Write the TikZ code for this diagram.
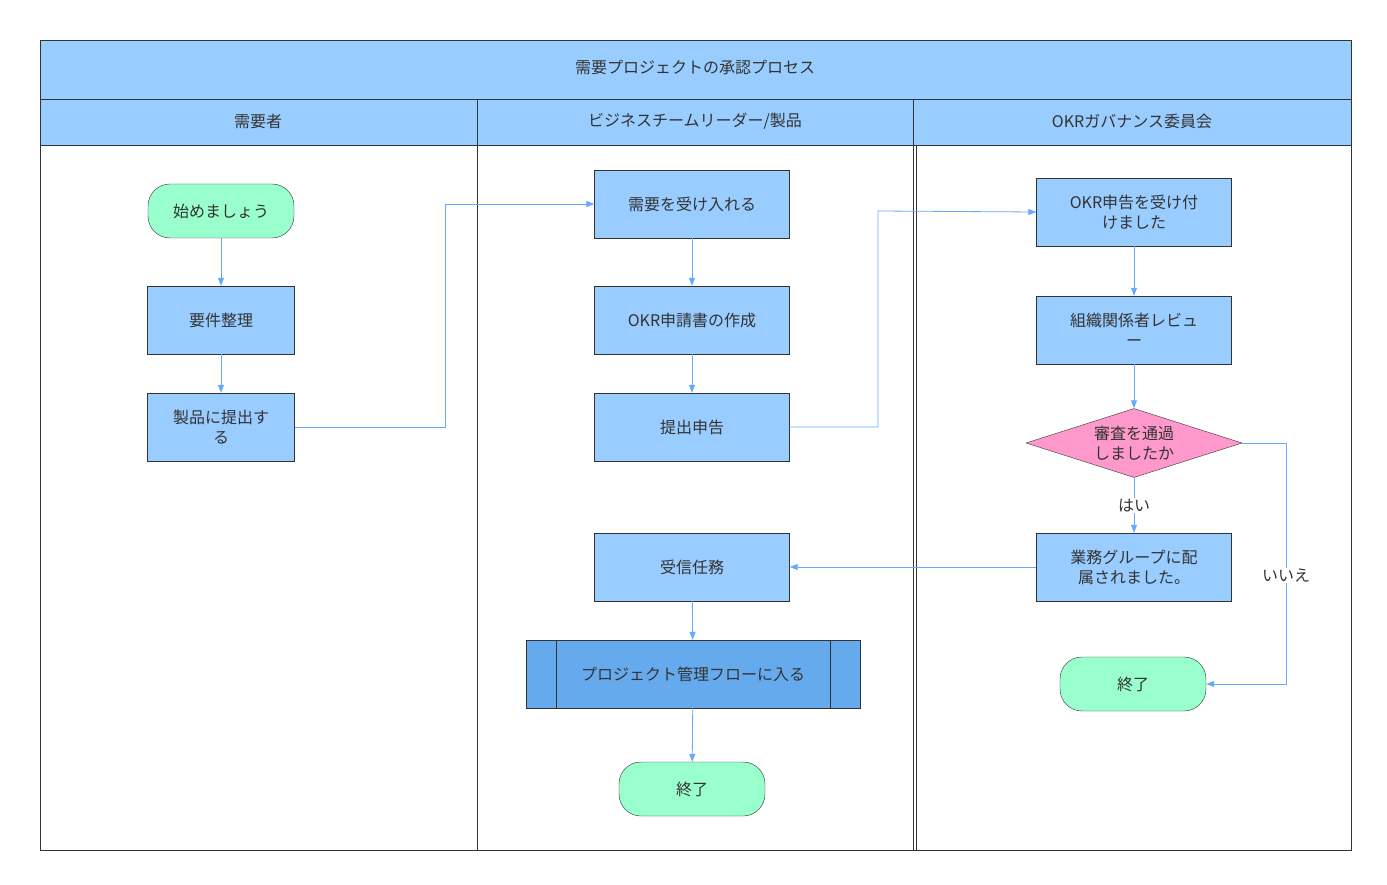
\documentclass[tikz,border=0pt]{standalone}
\usepackage{fontspec}
\setmainfont{Noto Sans CJK JP}
\usetikzlibrary{shapes.geometric,arrows.meta}
\definecolor{lb}{HTML}{99CCFF}
\definecolor{db}{HTML}{66AAEE}
\definecolor{gr}{HTML}{99FFCC}
\definecolor{pk}{HTML}{FF99CC}
\definecolor{ln}{HTML}{66AAFF}
\definecolor{bd}{HTML}{333333}
\begin{document}
\begin{tikzpicture}[x=1pt,y=-1pt,
  every node/.style={font=\fontsize{16}{20}\selectfont, text=bd},
  box/.style={draw=bd,fill=lb,minimum width=195pt,minimum height=68pt,align=center,inner sep=2pt},
  sbox/.style={box,minimum width=147pt},
  term/.style={draw=bd,fill=gr,rounded corners=22pt,minimum width=146pt,minimum height=54pt},
  arr/.style={draw=ln,-{Triangle[length=8pt,width=6pt]},line width=0.8pt},
  lbl/.style={fill=white,inner sep=1pt}]
\useasboundingbox (0,0) rectangle (1387,885);
\fill[white] (0,0) rectangle (1387,885);
% pool
\draw[bd,fill=lb] (40,40) rectangle (1351,99);
\node (title) at (695,68) {需要プロジェクトの承認プロセス};
\draw[bd,fill=lb] (40,99) rectangle (1351,145);
\draw[bd] (40,145) rectangle (1351,850);
\draw[bd] (477,99) -- (477,850);
\draw[bd] (913,99) -- (913,850);
\draw[bd] (916,145) -- (916,850);
\node (h1) at (258,121) {需要者};
\node (h2) at (695,121) {ビジネスチームリーダー/製品};
\node (h3) at (1132,121) {OKRガバナンス委員会};
% lane 1
\node[term] (s) at (221,211) {始めましょう};
\node[sbox] (a1) at (221,320) {要件整理};
\node[sbox] (a2) at (221,427) {製品に提出す\\る};
% lane 2
\node[box] (b1) at (692,204) {需要を受け入れる};
\node[box] (b2) at (692,320) {OKR申請書の作成};
\node[box] (b3) at (692,427) {提出申告};
\node[box] (b4) at (692,567) {受信任務};
\node[draw=bd,fill=db,minimum width=334pt,minimum height=68pt] (b5) at (693,674) {プロジェクト管理フローに入る};
\draw[bd] (556,640) -- (556,708) (830,640) -- (830,708);
\node[term] (e1) at (692,789) {終了};
% lane 3
\node[box] (c1) at (1134,212) {OKR申告を受け付\\けました};
\node[box] (c2) at (1134,330) {組織関係者レビュ\\ー};
\node[diamond,draw=bd,fill=pk,aspect=3.13,minimum width=216pt,minimum height=69pt,inner sep=0pt,align=center] (d) at (1134,443) {審査を通過\\しましたか};
\node[box] (c3) at (1134,567) {業務グループに配\\属されました。};
\node[term] (e2) at (1133,684) {終了};
% edges
\draw[arr] (s) -- (a1);
\draw[arr] (a1) -- (a2);
\draw[arr] (a2.east) -- (445,427) -- (445,204) -- (b1.west);
\draw[arr] (b1) -- (b2);
\draw[arr] (b2) -- (b3);
\draw[arr] (b3.east) -- (878,427) -- (878,211) -- (c1.west);
\draw[arr] (c1) -- (c2);
\draw[arr] (c2) -- (d);
\draw[arr] (d) -- node[lbl]{はい} (c3);
\draw[arr] (d.east) -- (1286,443) -- node[lbl,pos=0.55]{いいえ} (1286,684) -- (e2.east);
\draw[arr] (c3.west) -- (b4.east);
\draw[arr] (b4) -- (b5);
\draw[arr] (b5) -- (e1);
\end{tikzpicture}
\end{document}
